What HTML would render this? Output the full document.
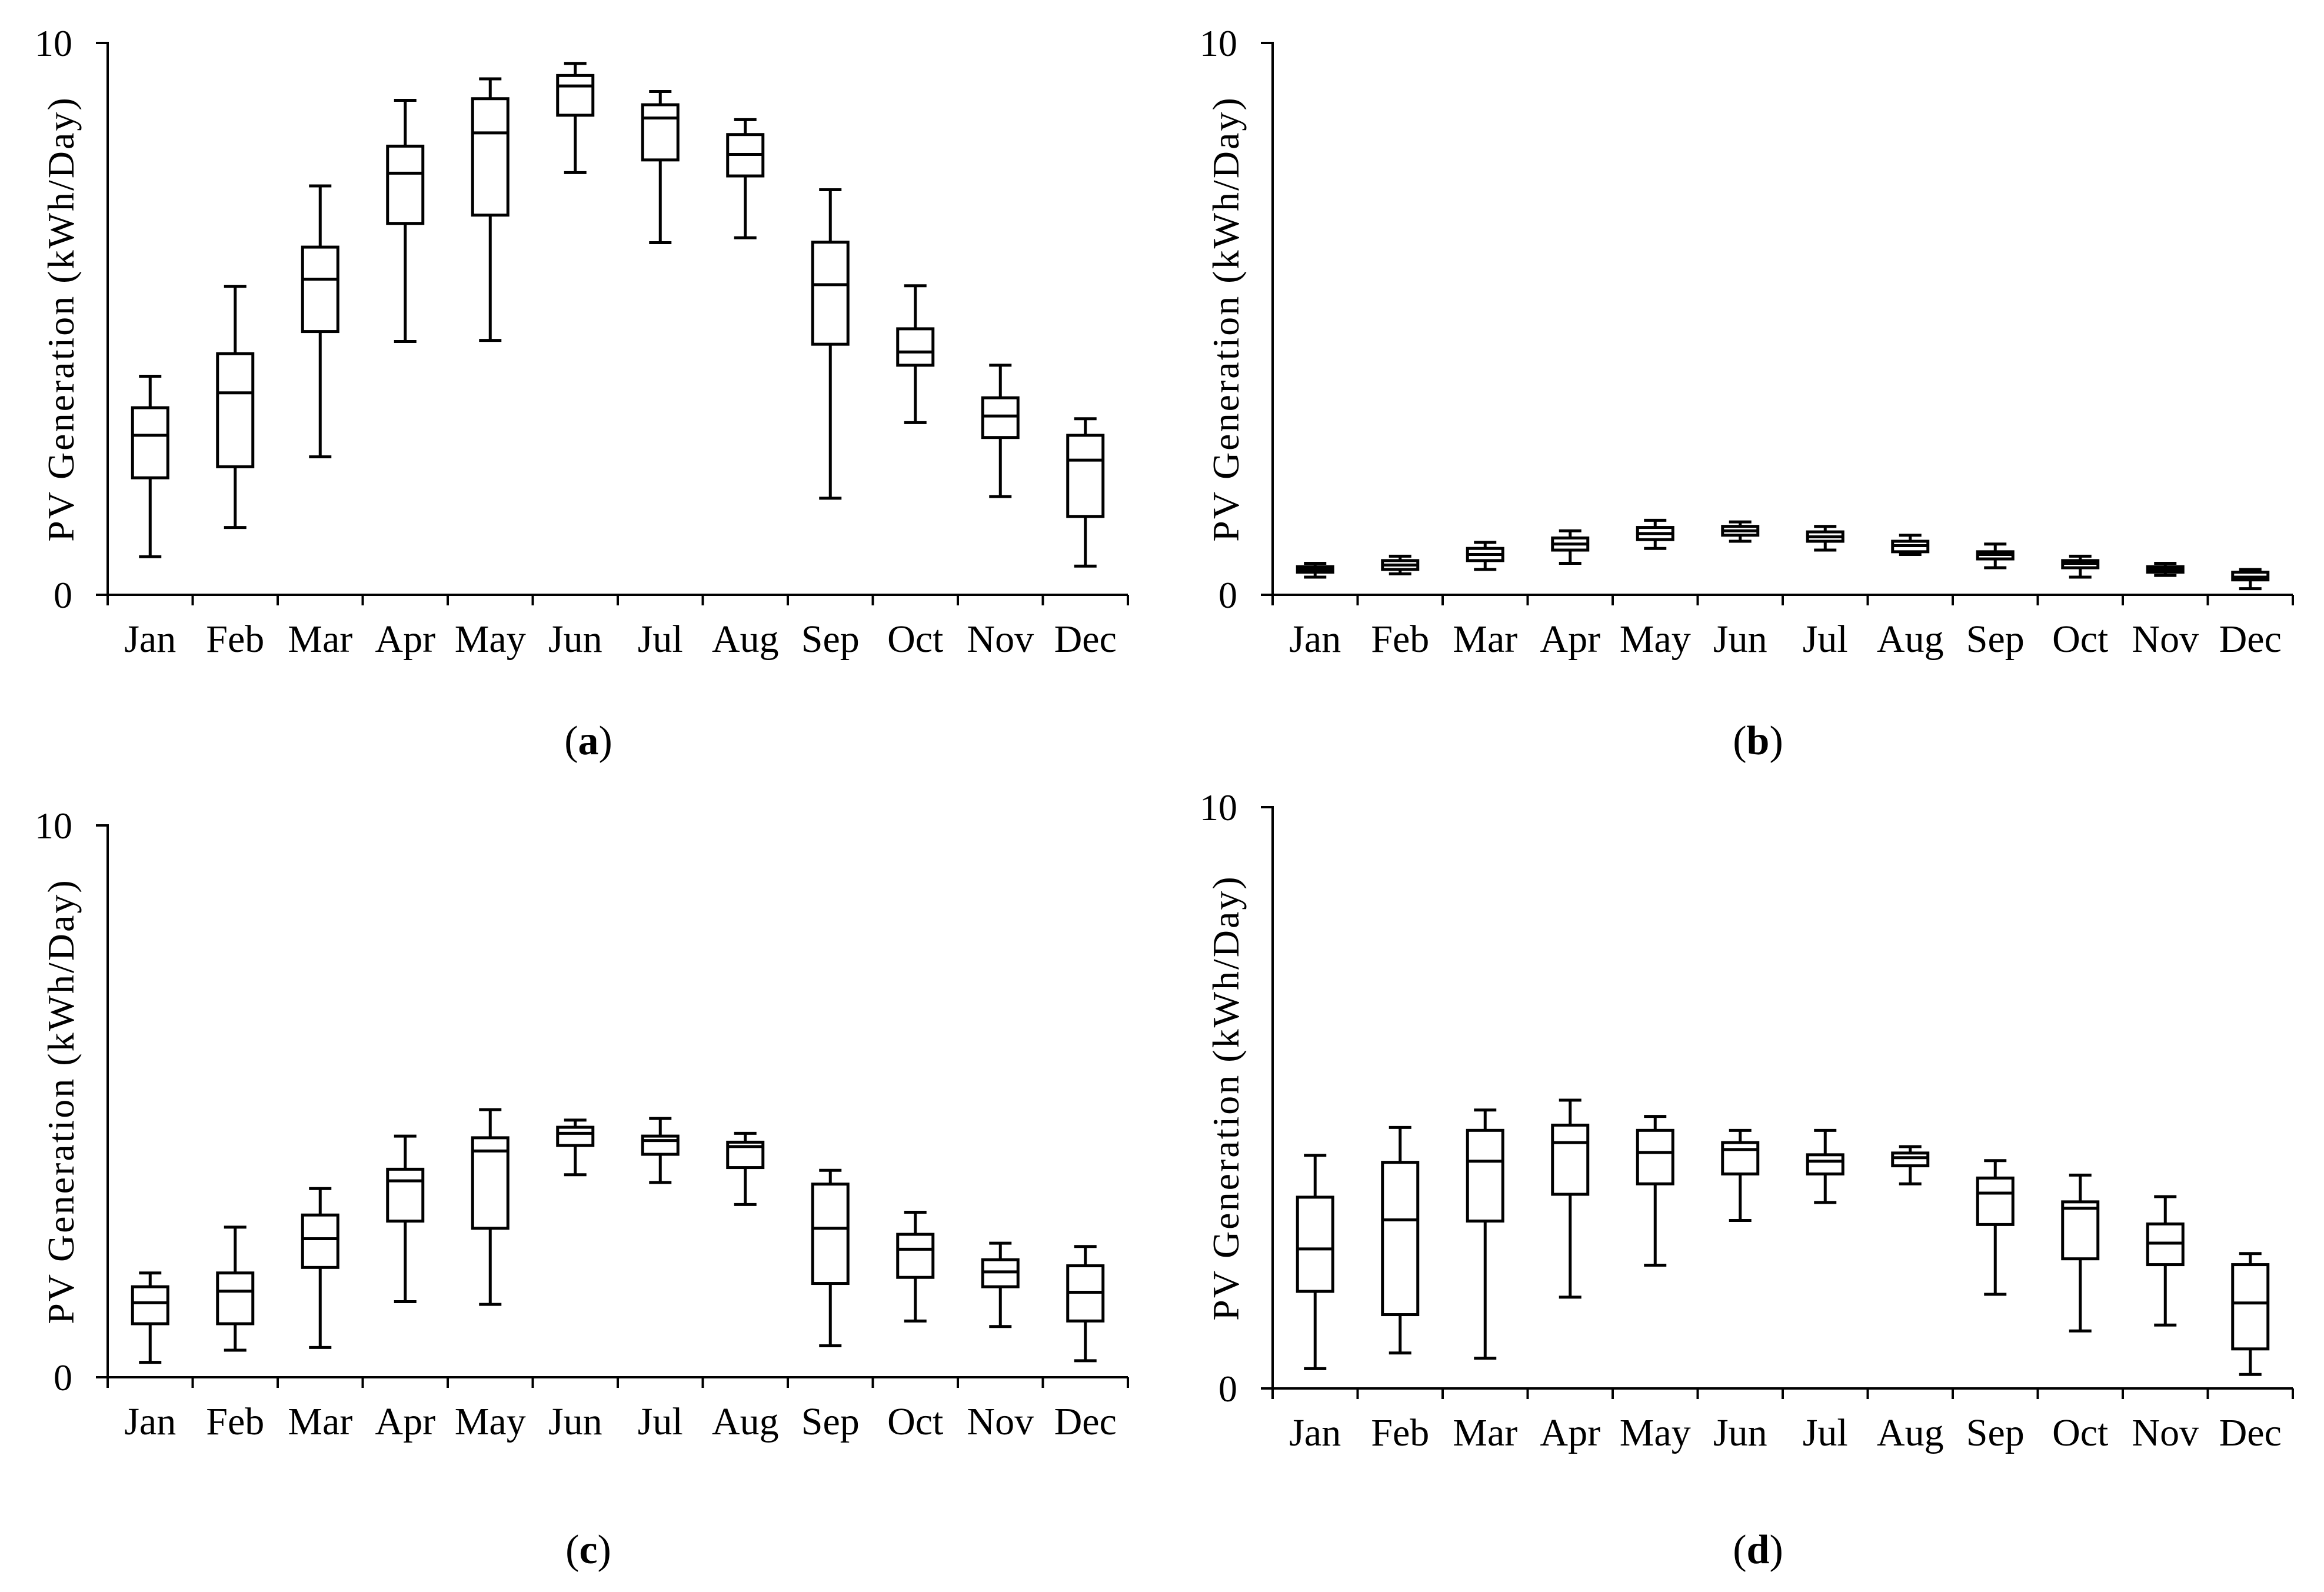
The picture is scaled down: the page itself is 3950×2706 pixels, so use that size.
<!DOCTYPE html>
<html><head><meta charset="utf-8"><style>
html,body{margin:0;padding:0;background:#fff;}
svg{display:block;}
text{font-family:"Liberation Serif",serif;fill:#000;}
</style></head><body>
<svg id="chart" width="3950" height="2706" viewBox="0 0 3950 2706"></svg>
<script>
const months = ["Jan","Feb","Mar","Apr","May","Jun","Jul","Aug","Sep","Oct","Nov","Dec"];
const yTicks = [0, 10];
const panelLabels = ["a","b","c","d"];
// each: [max, q3, median, q1, min] per month
const panelA = [[3.96,3.39,2.89,2.12,0.69],[5.59,4.37,3.66,2.32,1.22],[7.41,6.30,5.72,4.77,2.50],[8.96,8.13,7.64,6.73,4.59],[9.35,8.99,8.37,6.88,4.61],[9.63,9.41,9.22,8.69,7.65],[9.12,8.88,8.64,7.88,6.38],[8.61,8.34,7.98,7.59,6.47],[7.34,6.39,5.62,4.54,1.75],[5.60,4.82,4.40,4.16,3.12],[4.16,3.57,3.24,2.85,1.78],[3.19,2.89,2.44,1.42,0.52]];
const panelB = [[0.57,0.51,0.46,0.41,0.32],[0.70,0.62,0.54,0.46,0.38],[0.95,0.84,0.73,0.62,0.46],[1.16,1.03,0.92,0.81,0.57],[1.35,1.22,1.11,1.00,0.84],[1.32,1.24,1.16,1.08,0.97],[1.24,1.14,1.05,0.97,0.81],[1.08,0.97,0.89,0.78,0.73],[0.92,0.78,0.73,0.65,0.49],[0.70,0.62,0.57,0.49,0.32],[0.57,0.51,0.46,0.41,0.35],[0.46,0.41,0.32,0.27,0.11]];
const panelC = [[1.89,1.64,1.35,0.97,0.27],[2.72,1.89,1.56,0.97,0.49],[3.42,2.94,2.51,1.99,0.54],[4.37,3.77,3.56,2.83,1.37],[4.85,4.34,4.10,2.70,1.32],[4.66,4.53,4.42,4.20,3.67],[4.69,4.37,4.29,4.04,3.53],[4.42,4.26,4.18,3.80,3.13],[3.75,3.50,2.70,1.70,0.57],[2.99,2.59,2.32,1.81,1.02],[2.43,2.13,1.91,1.64,0.92],[2.37,2.02,1.54,1.02,0.30]];
const panelD = [[4.01,3.29,2.40,1.67,0.34],[4.49,3.89,2.90,1.27,0.61],[4.79,4.44,3.91,2.88,0.52],[4.96,4.53,4.23,3.34,1.57],[4.68,4.44,4.06,3.52,2.12],[4.44,4.23,4.11,3.69,2.89],[4.44,4.02,3.91,3.69,3.20],[4.16,4.05,3.97,3.83,3.52],[3.92,3.62,3.36,2.82,1.62],[3.67,3.21,3.10,2.23,0.99],[3.30,2.83,2.50,2.13,1.09],[2.32,2.13,1.47,0.68,0.24]];
const panelData = [panelA, panelB, panelC, panelD];

const layout = [
  {x0:183, y10:73,   y0:1011, labX:1000, labY:1282},
  {x0:2163,y10:73,   y0:1011, labX:2988, labY:1282},
  {x0:183, y10:1403, y0:2341, labX:1000, labY:2657},
  {x0:2163,y10:1372, y0:2360, labX:2988, labY:2657}
];
const NS = "http://www.w3.org/2000/svg";
const svg = document.getElementById("chart");
function mk(tag, attrs, parent){
  const e = document.createElementNS(NS, tag);
  for (const k in attrs) e.setAttribute(k, attrs[k]);
  (parent||svg).appendChild(e);
  return e;
}
const step = 144.5, SW = 5, BW = 60, CW = 38;
panelData.forEach((data, p) => {
  const L = layout[p];
  const g = mk("g", {});
  
  
  const y = v => L.y0 - (v/10)*(L.y0 - L.y10);
  const xc = i => L.x0 + step*(i+0.5);
  const xEnd = L.x0 + step*12;
  const ax = mk("path", {d:`M${L.x0-20},${L.y10} H${L.x0} V${L.y0} M${L.x0-20},${L.y0} H${xEnd}`, stroke:"#000","stroke-width":4, fill:"none"}, g);
  
  
  for (let i=0;i<=12;i++){
    const t = mk("line", {x1:L.x0+step*i, x2:L.x0+step*i, y1:L.y0, y2:L.y0+18, stroke:"#000","stroke-width":4}, g);
    
    
  }
  yTicks.forEach(v => {
    const t = mk("text", {x:L.x0-60, y:y(v)+22, "font-size":64, "text-anchor":"end"}, g);
    t.textContent = v;
    
    
  });
  months.forEach((m,i) => {
    const t = mk("text", {x:xc(i), y:L.y0+97, "font-size":66, "text-anchor":"middle"}, g);
    t.textContent = m;
    
    
  });
  const yt = mk("text", {x:0, y:0, "font-size":64, "letter-spacing":3, "text-anchor":"middle", transform:`translate(${L.x0-58},${(L.y10+L.y0)/2}) rotate(-90)`}, g);
  yt.textContent = "PV Generation (kWh/Day)";
  
  
  data.forEach((d,i) => {
    const [mx,q3,md,q1,mn] = d;
    const cx = xc(i);
    const bg = mk("g", {stroke:"#000","stroke-width":SW, fill:"none"}, g);
    
    
    mk("line", {x1:cx, x2:cx, y1:y(mx), y2:y(q3)}, bg);
    mk("line", {x1:cx, x2:cx, y1:y(q1), y2:y(mn)}, bg);
    mk("line", {x1:cx-CW/2, x2:cx+CW/2, y1:y(mx), y2:y(mx)}, bg);
    mk("line", {x1:cx-CW/2, x2:cx+CW/2, y1:y(mn), y2:y(mn)}, bg);
    mk("rect", {x:cx-BW/2, y:y(q3), width:BW, height:Math.max(0.5,y(q1)-y(q3)), fill:"#fff"}, bg);
    mk("line", {x1:cx-BW/2, x2:cx+BW/2, y1:y(md), y2:y(md)}, bg);
  });
  const lab = mk("text", {x:L.labX, y:L.labY, "font-size":70, "text-anchor":"middle"}, svg);
  lab.innerHTML = '(<tspan font-weight="bold">' + panelLabels[p] + '</tspan>)';
  
  
});
</script>
</body></html>
